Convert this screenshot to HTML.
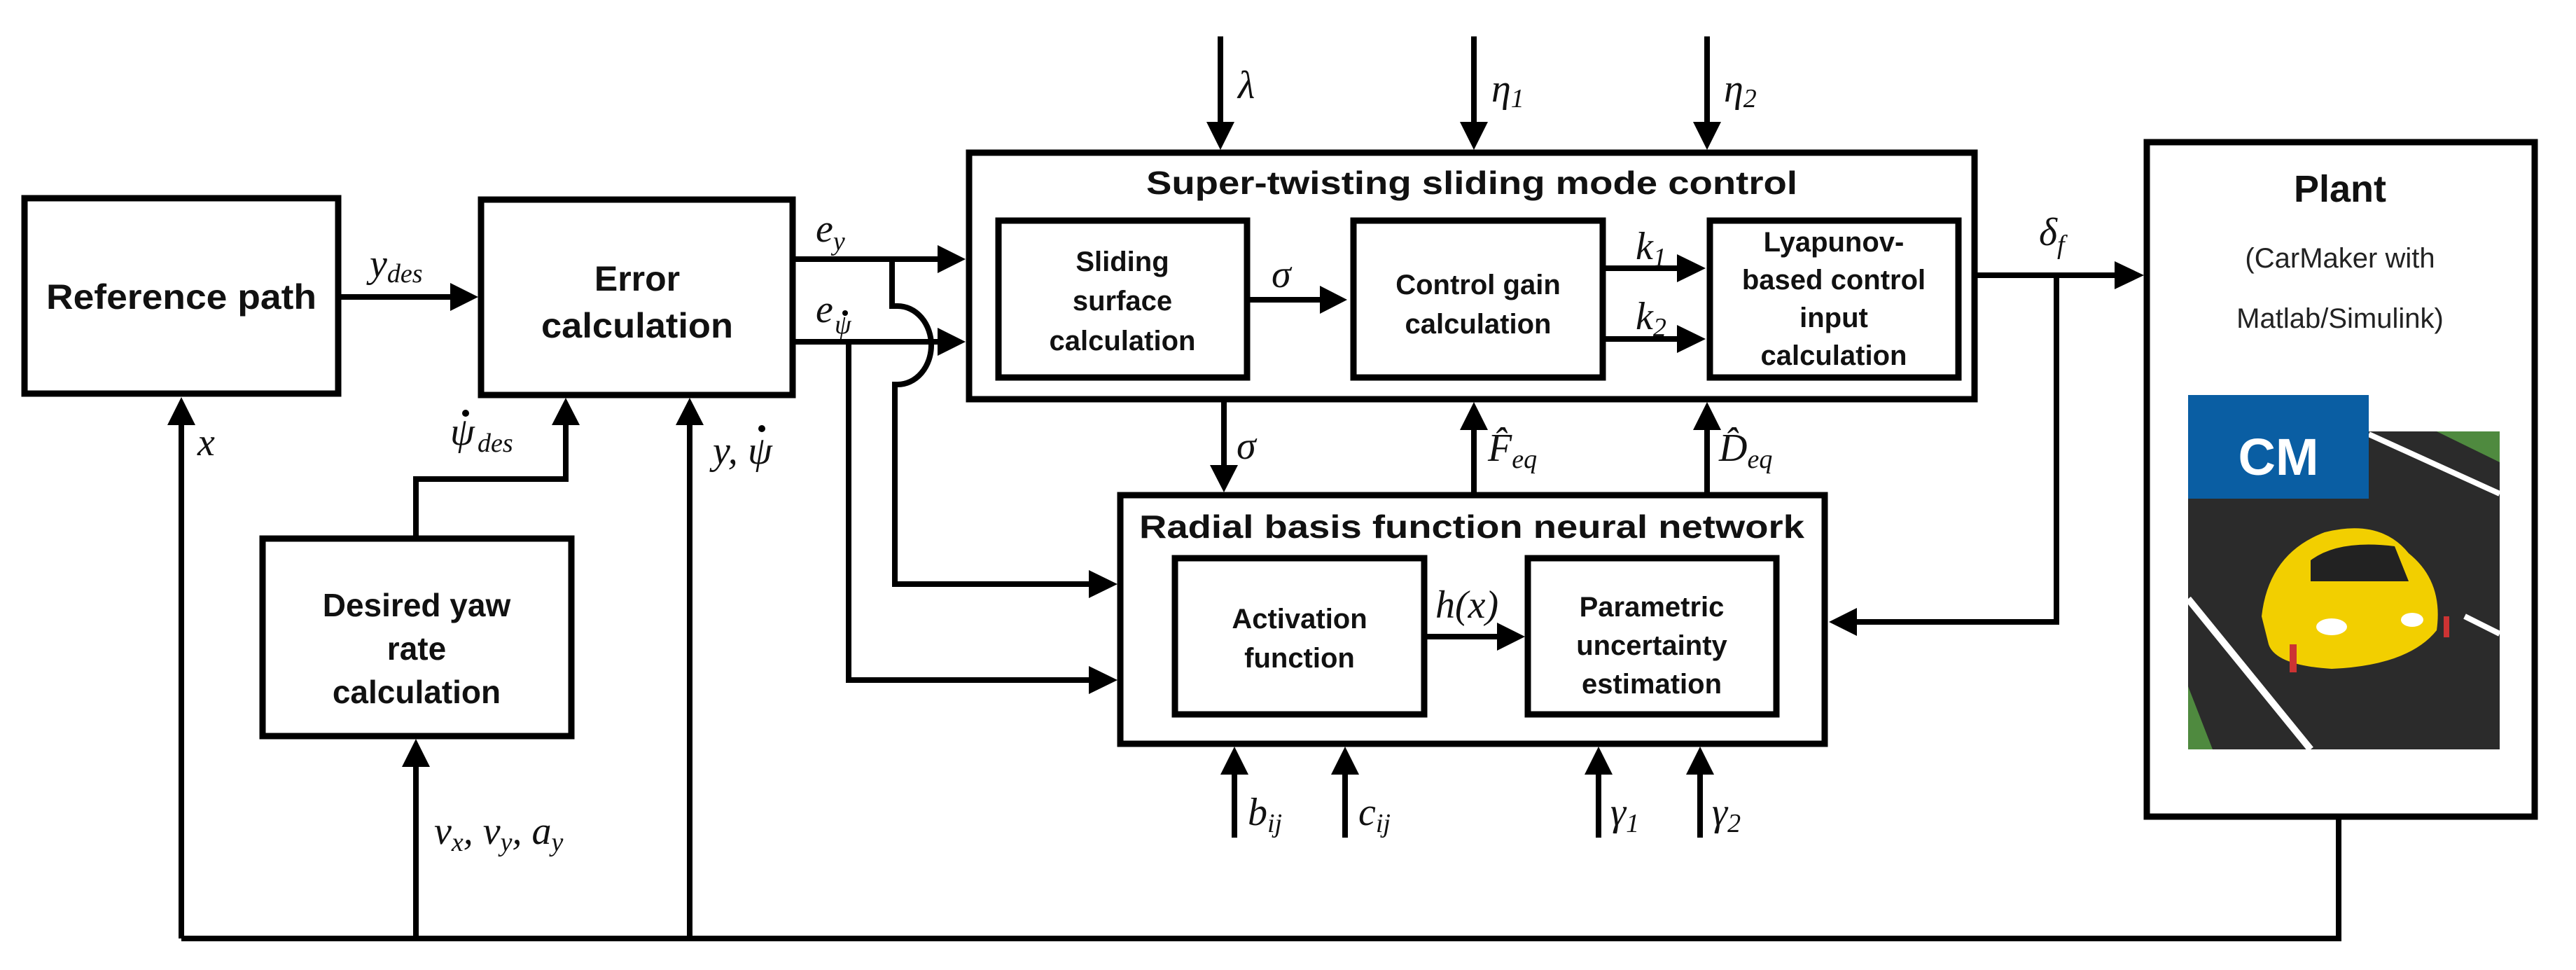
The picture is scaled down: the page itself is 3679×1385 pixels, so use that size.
<!DOCTYPE html>
<html><head><meta charset="utf-8"><style>
html,body{margin:0;padding:0;background:#fff;}
svg{display:block;}
.b{font-family:"Liberation Sans",sans-serif;font-weight:bold;fill:#111;}
.m{font-family:"Liberation Serif",serif;font-style:italic;fill:#111;}
.n{font-family:"Liberation Sans",sans-serif;fill:#222;}
</style></head><body>
<svg width="3679" height="1385" viewBox="0 0 3679 1385" xmlns="http://www.w3.org/2000/svg">
<g fill="none" stroke="#000" stroke-width="9">
<rect x="35" y="283" width="448" height="279"/>
<rect x="687" y="285" width="445" height="279"/>
<rect x="375" y="769" width="441" height="282"/>
<rect x="1384" y="218" width="1436" height="352"/>
<rect x="1426" y="315" width="355" height="224"/>
<rect x="1933" y="315" width="356" height="224"/>
<rect x="2442" y="315" width="355" height="224"/>
<rect x="1600" y="707" width="1006" height="355"/>
<rect x="1678" y="797" width="356" height="223"/>
<rect x="2182" y="797" width="355" height="223"/>
<rect x="3066" y="203" width="554" height="963"/>
</g>
<g fill="none" stroke="#000" stroke-width="8">
<line x1="483" y1="424" x2="650" y2="424"/>
<line x1="1132" y1="370" x2="1345" y2="370"/>
<line x1="1132" y1="488" x2="1345" y2="488"/>
<path d="M1274 370 V437 H1282 A48 56 0 0 1 1282 549 H1278 V834 H1560"/>
<path d="M1212 488 V971 H1560"/>
<path d="M259 1340 H3340 V1166"/>
<line x1="259" y1="1340" x2="259" y2="605"/>
<line x1="594" y1="1340" x2="594" y2="1093"/>
<line x1="985" y1="1340" x2="985" y2="606"/>
<path d="M594 769 V684 H808 V606"/>
<line x1="1781" y1="428" x2="1893" y2="428"/>
<line x1="2289" y1="383" x2="2402" y2="383"/>
<line x1="2289" y1="484" x2="2402" y2="484"/>
<line x1="1743" y1="52" x2="1743" y2="180"/>
<line x1="2105" y1="52" x2="2105" y2="180"/>
<line x1="2438" y1="52" x2="2438" y2="180"/>
<line x1="1748" y1="570" x2="1748" y2="670"/>
<line x1="2105" y1="707" x2="2105" y2="610"/>
<line x1="2438" y1="707" x2="2438" y2="610"/>
<line x1="2820" y1="393" x2="3025" y2="393"/>
<path d="M2937 393 V888 H2650"/>
<line x1="2034" y1="909" x2="2145" y2="909"/>
<line x1="1763" y1="1196" x2="1763" y2="1100"/>
<line x1="1921" y1="1196" x2="1921" y2="1100"/>
<line x1="2283" y1="1196" x2="2283" y2="1100"/>
<line x1="2428" y1="1196" x2="2428" y2="1100"/>
</g>
<g fill="#000">
<polygon points="643,404 683,424 643,444"/>
<polygon points="1339,350 1379,370 1339,390"/>
<polygon points="1339,468 1379,488 1339,508"/>
<polygon points="1885,408 1924,428 1885,448"/>
<polygon points="2395,363 2436,383 2395,403"/>
<polygon points="2395,464 2436,484 2395,504"/>
<polygon points="1555,814 1596,834 1555,854"/>
<polygon points="1555,951 1596,971 1555,991"/>
<polygon points="2138,889 2178,909 2138,929"/>
<polygon points="3020,373 3062,393 3020,413"/>
<polygon points="2652,868 2612,888 2652,908"/>
<polygon points="239,607 259,567 279,607"/>
<polygon points="788,607 808,568 828,607"/>
<polygon points="965,607 985,568 1005,607"/>
<polygon points="574,1095 594,1055 614,1095"/>
<polygon points="2085,614 2105,574 2125,614"/>
<polygon points="2418,614 2438,574 2458,614"/>
<polygon points="1743,1106 1763,1066 1783,1106"/>
<polygon points="1901,1106 1921,1066 1941,1106"/>
<polygon points="2263,1106 2283,1066 2303,1106"/>
<polygon points="2408,1106 2428,1066 2448,1106"/>
<polygon points="1723,174 1743,214 1763,174"/>
<polygon points="2085,174 2105,214 2125,174"/>
<polygon points="2418,174 2438,214 2458,174"/>
<polygon points="1728,664 1748,703 1768,664"/>
<circle cx="1207" cy="447" r="4"/>
<circle cx="665" cy="590" r="5"/>
<circle cx="1088" cy="612" r="5"/>
</g>
<g class="b" text-anchor="middle" font-size="50">
<text x="259" y="441" textLength="386" lengthAdjust="spacingAndGlyphs">Reference path</text>
<text x="910" y="415">Error</text>
<text x="910" y="482" textLength="274" lengthAdjust="spacingAndGlyphs">calculation</text>
<text x="595" y="880" font-size="46">Desired yaw</text>
<text x="595" y="942" font-size="46">rate</text>
<text x="595" y="1004" font-size="46">calculation</text>
<text x="2102" y="277" font-size="46" textLength="930" lengthAdjust="spacingAndGlyphs">Super-twisting sliding mode control</text>
<text x="2102" y="768" font-size="46" textLength="950" lengthAdjust="spacingAndGlyphs">Radial basis function neural network</text>
</g>
<g class="b" text-anchor="middle" font-size="40">
<text x="1603" y="387">Sliding</text>
<text x="1603" y="443">surface</text>
<text x="1603" y="500">calculation</text>
<text x="2111" y="420">Control gain</text>
<text x="2111" y="476">calculation</text>
<text x="2619" y="359">Lyapunov-</text>
<text x="2619" y="413">based control</text>
<text x="2619" y="467">input</text>
<text x="2619" y="521">calculation</text>
<text x="1856" y="897">Activation</text>
<text x="1856" y="953">function</text>
<text x="2359" y="880">Parametric</text>
<text x="2359" y="935">uncertainty</text>
<text x="2359" y="990">estimation</text>
<text x="3342" y="288" font-size="54">Plant</text>
</g>
<g class="n" text-anchor="middle" font-size="40">
<text x="3342" y="382">(CarMaker with</text>
<text x="3342" y="468">Matlab/Simulink)</text>
</g>
<g class="m" font-size="56">
<text x="528" y="395">y<tspan font-size="38" dy="8">des</tspan></text>
<text x="1165" y="345">e<tspan font-size="38" dy="12">y</tspan></text>
<text x="1165" y="460">e</text>
<text x="1192" y="476" font-size="38">ψ</text>
<text x="282" y="650">x</text>
<text x="643" y="635">ψ</text>
<text x="682" y="645" font-size="38">des</text>
<text x="1018" y="662">y,</text>
<text x="1068" y="662">ψ</text>
<text x="620" y="1205">v<tspan font-size="38" dy="10">x</tspan><tspan dy="-10">, v</tspan><tspan font-size="38" dy="10">y</tspan><tspan dy="-10">, a</tspan><tspan font-size="38" dy="10">y</tspan></text>
<text x="1768" y="140">λ</text>
<text x="2130" y="145">η<tspan font-size="38" dy="8">1</tspan></text>
<text x="2462" y="145">η<tspan font-size="38" dy="8">2</tspan></text>
<text x="1766" y="655">σ</text>
<text x="1816" y="410">σ</text>
<text x="2336" y="370">k<tspan font-size="38" dy="10">1</tspan></text>
<text x="2336" y="470">k<tspan font-size="38" dy="10">2</tspan></text>
<text x="2125" y="658">F̂<tspan font-size="38" dy="10">eq</tspan></text>
<text x="2455" y="658">D̂<tspan font-size="38" dy="10">eq</tspan></text>
<text x="2050" y="882">h(x)</text>
<text x="2912" y="350">δ<tspan font-size="38" dy="12">f</tspan></text>
<text x="1782" y="1178">b<tspan font-size="38" dy="10">ij</tspan></text>
<text x="1940" y="1178">c<tspan font-size="38" dy="10">ij</tspan></text>
<text x="2300" y="1178">γ<tspan font-size="38" dy="10">1</tspan></text>
<text x="2445" y="1178">γ<tspan font-size="38" dy="10">2</tspan></text>
</g>
<rect x="3125" y="616" width="445" height="454" fill="#2b2b2b"/>
<polygon points="3383,616 3570,616 3570,660 3480,616" fill="#4f8a3f"/>
<polygon points="3125,980 3125,1070 3160,1070" fill="#4f8a3f"/>
<line x1="3383" y1="620" x2="3570" y2="705" stroke="#fff" stroke-width="8"/>
<line x1="3125" y1="855" x2="3300" y2="1070" stroke="#fff" stroke-width="10"/>
<line x1="3520" y1="880" x2="3570" y2="905" stroke="#fff" stroke-width="8"/>
<rect x="3125" y="564" width="258" height="148" fill="#0a5ea3"/>
<text x="3254" y="678" text-anchor="middle" font-family="Liberation Sans,sans-serif" font-weight="bold" font-size="74" fill="#fff">CM</text>
<path d="M3230 880 Q3240 790 3320 760 Q3400 740 3440 790 Q3490 830 3480 900 Q3440 950 3330 955 Q3250 950 3240 920 Z" fill="#f2cf00"/>
<path d="M3300 800 Q3340 770 3420 780 L3440 830 L3300 830 Z" fill="#222"/>
<ellipse cx="3330" cy="895" rx="22" ry="12" fill="#fff"/>
<ellipse cx="3445" cy="885" rx="16" ry="10" fill="#fff"/>
<rect x="3270" y="920" width="10" height="40" fill="#c33"/>
<rect x="3490" y="880" width="8" height="30" fill="#c33"/>
</svg>
</body></html>
